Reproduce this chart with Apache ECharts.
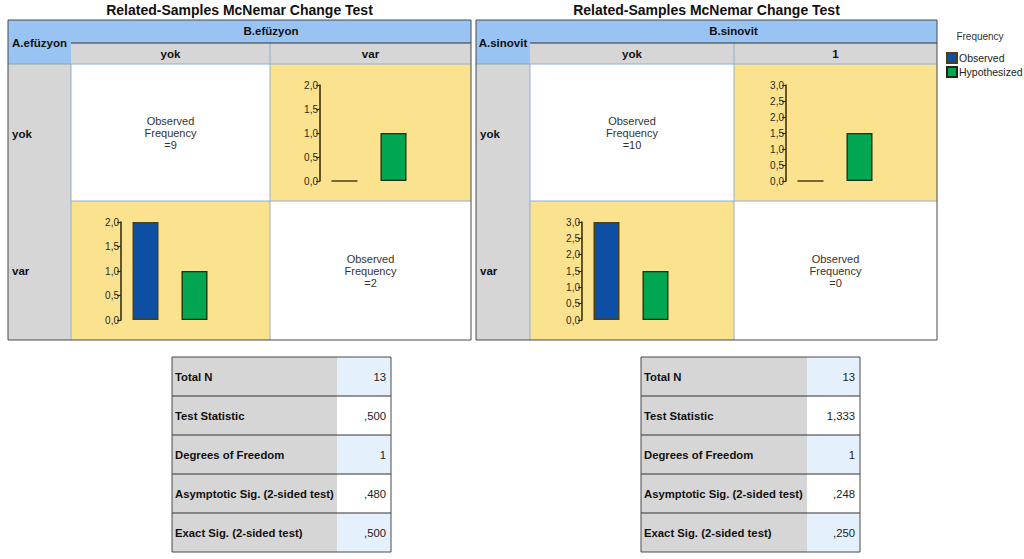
<!DOCTYPE html>
<html><head><meta charset="utf-8">
<script src="https://cdn.jsdelivr.net/npm/echarts@6/dist/echarts.min.js"></script>
<style>html,body{margin:0;padding:0;background:#fff}#c{width:1024px;height:559px}</style>
</head><body><div id="c"></div>
<script>
// ---------- data ----------
const chartTitle = "Related-Samples McNemar Change Test";
const legendTitle = "Frequency";
const seriesNames = ["Observed", "Hypothesized"];

const varA1 = "A.efüzyon", varB1 = "B.efüzyon";
const rowCats1 = ["yok", "var"];
const colCats1 = ["yok", "var"];
const observed1 = [[9, 0], [2, 2]];
const hypothesized1 = [[null, 1], [1, null]];
const axisMax1 = 2;

const varA2 = "A.sinovit", varB2 = "B.sinovit";
const rowCats2 = ["yok", "var"];
const colCats2 = ["yok", "1"];
const observed2 = [[10, 0], [3, 0]];
const hypothesized2 = [[null, 1.5], [1.5, null]];
const axisMax2 = 3;

const statLabels = ["Total N", "Test Statistic", "Degrees of Freedom", "Asymptotic Sig. (2-sided test)", "Exact Sig. (2-sided test)"];
const statValues1 = ["13", ",500", "1", ",480", ",500"];
const statValues2 = ["13", "1,333", "1", ",248", ",250"];

// ---------- style ----------
const FONT = "Liberation Sans, Arial, sans-serif";
const BLUE = "#98c3f2", GRAY = "#d6d6d6", YEL = "#fbe28f", LINE = "#8fb0d6", DARK = "#4a4a4a";
const OBS = "#0c4fa3", HYP = "#00a651", AX = "#3a3210";

const panels = [
  {x0: 8, x1: 71, x2: 270, x3: 471, A: varA1, B: varB1, rows: rowCats1, cols: colCats1, obs: observed1, hyp: hypothesized1, max: axisMax1, axOff: 50},
  {x0: 476, x1: 530, x2: 734, x3: 937, A: varA2, B: varB2, rows: rowCats2, cols: colCats2, obs: observed2, hyp: hypothesized2, max: axisMax2, axOff: 52}
];
const Y0 = 20, Y1 = 43, Y2 = 64, Y3 = 201, Y4 = 340;

const g = [];
function rect(x, y, w, h, fill, stroke, lw) {
  g.push({type: 'rect', shape: {x, y, width: w, height: h}, style: {fill, stroke: stroke || null, lineWidth: lw || 1}, silent: true});
}
function line(x1, y1, x2, y2, stroke, lw) {
  g.push({type: 'line', shape: {x1, y1, x2, y2}, style: {stroke, lineWidth: lw || 1}, silent: true, z: 10});
}
function text(x, y, s, o) {
  o = o || {};
  g.push({type: 'text', x, y, silent: true, z: 20, style: {text: s, fill: o.color || '#111', font: (o.bold ? 'bold ' : '') + (o.size || 11) + 'px ' + FONT, textAlign: o.align || 'center', textVerticalAlign: 'middle', lineHeight: o.lh || 12}});
}

const grids = [], xAxes = [], yAxes = [], series = [];
panels.forEach((p, pi) => {
  const cx = (p.x0 + p.x3) / 2;
  text(cx, 10, chartTitle, {bold: true, size: 14});
  // header
  rect(p.x0, Y0, p.x3 - p.x0, Y2 - Y0, BLUE);
  rect(p.x1, Y1, p.x3 - p.x1, Y2 - Y1, GRAY);
  rect(p.x0, Y2, p.x1 - p.x0, Y4 - Y2, GRAY);
  text((p.x1 + p.x3) / 2, 31, p.B, {bold: true, size: 11.5});
  text((p.x1 + p.x2) / 2, 54, p.cols[0], {bold: true, size: 11.5});
  text((p.x2 + p.x3) / 2, 54, p.cols[1], {bold: true, size: 11.5});
  text((p.x0 + p.x1) / 2, 43, p.A, {bold: true, size: 11.5});
  text(p.x0 + 4, 134, p.rows[0], {bold: true, align: 'left', size: 11.5});
  text(p.x0 + 4, 271, p.rows[1], {bold: true, align: 'left', size: 11.5});
  const xs = [p.x1, p.x2, p.x3], ys = [Y2, Y3, Y4];
  for (let r = 0; r < 2; r++) for (let c = 0; c < 2; c++) {
    const diag = r === c;
    const x = xs[c], y = ys[r], w = xs[c + 1] - x, h = ys[r + 1] - y;
    rect(x, y, w, h, diag ? '#ffffff' : YEL);
    if (diag) {
      text(x + w / 2, y + h / 2, 'Observed\nFrequency\n=' + p.obs[r][c], {size: 11, color: '#333'});
    } else {
      const gi = grids.length;
      const top = y + 21, bottom = y + h - 20;
      grids.push({left: x + p.axOff, top, width: 98, height: bottom - top, containLabel: false});
      xAxes.push({type: 'category', gridIndex: gi, data: seriesNames, show: false});
      yAxes.push({type: 'value', gridIndex: gi, min: 0, max: p.max, interval: 0.5,
        axisLine: {show: true, lineStyle: {color: AX, width: 1.6}},
        axisTick: {show: true, length: 4, lineStyle: {color: AX, width: 1.2}},
        splitLine: {show: false},
        axisLabel: {fontSize: 10, color: '#2a2a1a', margin: 2, fontFamily: FONT, formatter: v => v.toFixed(1).replace('.', ',')}});
      series.push({name: seriesNames[0], type: 'bar', xAxisIndex: gi, yAxisIndex: gi, stack: 's' + gi, barWidth: 26,
        data: [p.obs[r][c], '-'], itemStyle: {color: OBS, borderColor: '#4a4018', borderWidth: 1.5}, emphasis: {disabled: true}});
      series.push({name: seriesNames[1], type: 'bar', xAxisIndex: gi, yAxisIndex: gi, stack: 's' + gi, barWidth: 26,
        data: ['-', p.hyp[r][c]], itemStyle: {color: HYP, borderColor: '#1f2a12', borderWidth: 1.3}, emphasis: {disabled: true}});
    }
  }
  // grid lines
  line(p.x2, Y1, p.x2, Y4, LINE);
  line(p.x1, Y3, p.x3, Y3, LINE);
  line(p.x1, Y2, p.x3, Y2, LINE);
  line(p.x1, Y2, p.x1, Y4, LINE);
  line(p.x1, Y1, p.x3, Y1, '#333');
  line(p.x0, Y2, p.x1, Y2, '#8aa');
  g.push({type: 'rect', shape: {x: p.x0, y: Y0, width: p.x3 - p.x0, height: Y4 - Y0}, style: {fill: null, stroke: DARK, lineWidth: 1}, silent: true, z: 15});
});

// tables
const tables = [{x: 172, split: 337, r: 391, vals: statValues1}, {x: 641, split: 807, r: 860, vals: statValues2}];
tables.forEach(t => {
  const top = 357, rh = 39;
  statLabels.forEach((lab, i) => {
    const y = top + i * rh;
    rect(t.x, y, t.split - t.x, rh, GRAY);
    rect(t.split, y, t.r - t.split, rh, i % 2 === 0 ? '#e4f0fc' : '#ffffff');
    text(t.x + 3, y + rh / 2, lab, {bold: true, align: 'left', size: 11.3});
    text(t.r - 5, y + rh / 2, t.vals[i], {align: 'right', color: '#222', size: 11.3});
    if (i > 0) line(t.x, y, t.r, y, '#333');
  });
  g.push({type: 'rect', shape: {x: t.x, y: top, width: t.r - t.x, height: rh * 5}, style: {fill: null, stroke: DARK, lineWidth: 1}, silent: true, z: 15});
});

text(980, 36, legendTitle, {size: 10, color: '#333'});

const chart = echarts.init(document.getElementById('c'), null, {renderer: 'svg'});
chart.setOption({
  animation: false,
  grid: grids, xAxis: xAxes, yAxis: yAxes, series,
  legend: {data: seriesNames, orient: 'vertical', left: 941, top: 47, itemWidth: 10, itemHeight: 10, itemGap: 2, icon: 'rect',
    textStyle: {fontSize: 10.5, color: '#222', fontFamily: FONT, padding: [0, 0, 0, -3]}, selectedMode: false},
  graphic: g
});
</script></body></html>
